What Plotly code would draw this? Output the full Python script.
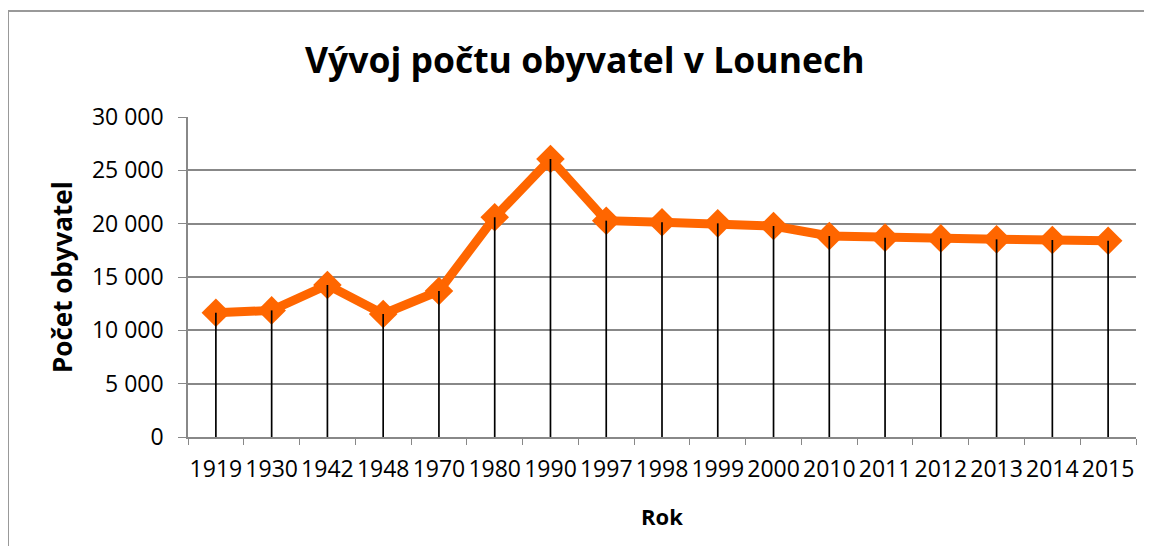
import plotly.graph_objects as go

years = ["1919", "1930", "1942", "1948", "1970", "1980", "1990", "1997", "1998",
         "1999", "2000", "2010", "2011", "2012", "2013", "2014", "2015"]
population = [11650, 11870, 14250, 11530, 13690, 20600, 26060, 20280, 20130,
              20030, 19780, 18840, 18690, 18620, 18530, 18470, 18400]

title_text = "Vývoj počtu obyvatel v Lounech"
x_title = "Rok"
y_title = "Počet obyvatel"
y_ticks = [0, 5000, 10000, 15000, 20000, 25000, 30000]

# page has an 8px body margin; figure fills the rest of the 1152x554 window
OFF = 8
W, H = 1152 - 2 * OFF, 554 - 2 * OFF
# plot area in window coords: x 188..1136, y 117..437
L, T = 188 - OFF, 117 - OFF
R = W - (1136 - OFF)
B = H - (437 - OFF)
pw, ph = W - L - R, H - T - B

def px(x):  # window x -> paper
    return (x - OFF - L) / pw

def py(y):  # window y -> paper
    return (H - B - (y - OFF)) / ph

font_main = "Open Sans"
fig = go.Figure()

fig.add_trace(go.Scatter(
    x=years, y=population, mode="lines+markers",
    line=dict(color="#FF6600", width=9),
    marker=dict(symbol="diamond", size=22, color="#FF6600"),
    showlegend=False, hoverinfo="x+y",
))
# drop lines from each point down to the axis
fig.add_trace(go.Scatter(
    x=years, y=population, mode="markers",
    marker=dict(size=1, color="rgba(0,0,0,0)"),
    error_y=dict(type="data", symmetric=False, array=[0] * len(years),
                 arrayminus=population, color="black", thickness=1.7, width=0),
    showlegend=False, hoverinfo="skip",
))

fig.update_layout(
    width=W, height=H,
    margin=dict(l=L, r=R, t=T, b=B, autoexpand=False),
    paper_bgcolor="white", plot_bgcolor="white",
    separators=", ",
    font=dict(family=font_main, color="black"),
    xaxis=dict(
        type="category", showgrid=False, showline=True, linecolor="#888888", linewidth=1.5,
        ticks="outside", tickson="boundaries", ticklen=6, tickcolor="#888888",
        tickfont=dict(size=23, family=font_main), tickangle=0, automargin=False,
        ticklabelstandoff=11, range=[-0.5, len(years) - 0.5],
    ),
    yaxis=dict(
        range=[0, 30000], tickvals=y_ticks, tickformat=",d",
        showgrid=True, gridcolor="#888888", gridwidth=1.5,
        showline=True, linecolor="#888888", linewidth=1.5,
        ticks="outside", ticklen=8, tickcolor="#888888", automargin=False,
        tickfont=dict(size=23), ticklabelstandoff=10, zeroline=False,
    ),
    annotations=[
        dict(text="<b>" + title_text + "</b>", x=px(585), y=py(59), xref="paper", yref="paper",
             showarrow=False, font=dict(size=35.5, family=font_main), xanchor="center", yanchor="middle"),
        dict(text="<b>" + x_title + "</b>", x=px(662), y=py(516), xref="paper", yref="paper",
             showarrow=False, font=dict(size=22, family=font_main), xanchor="center", yanchor="middle"),
        dict(text="<b>" + y_title + "</b>", x=px(62), y=py(277), xref="paper", yref="paper",
             showarrow=False, textangle=-90, font=dict(size=26, family=font_main),
             xanchor="center", yanchor="middle"),
    ],
    shapes=[
        dict(type="rect", xref="paper", yref="paper", x0=px(8), y0=py(11), x1=px(1170), y1=py(580),
             line=dict(color="#999999", width=2), fillcolor="rgba(0,0,0,0)", layer="below"),
    ],
)

fig.write_html("out.html")
